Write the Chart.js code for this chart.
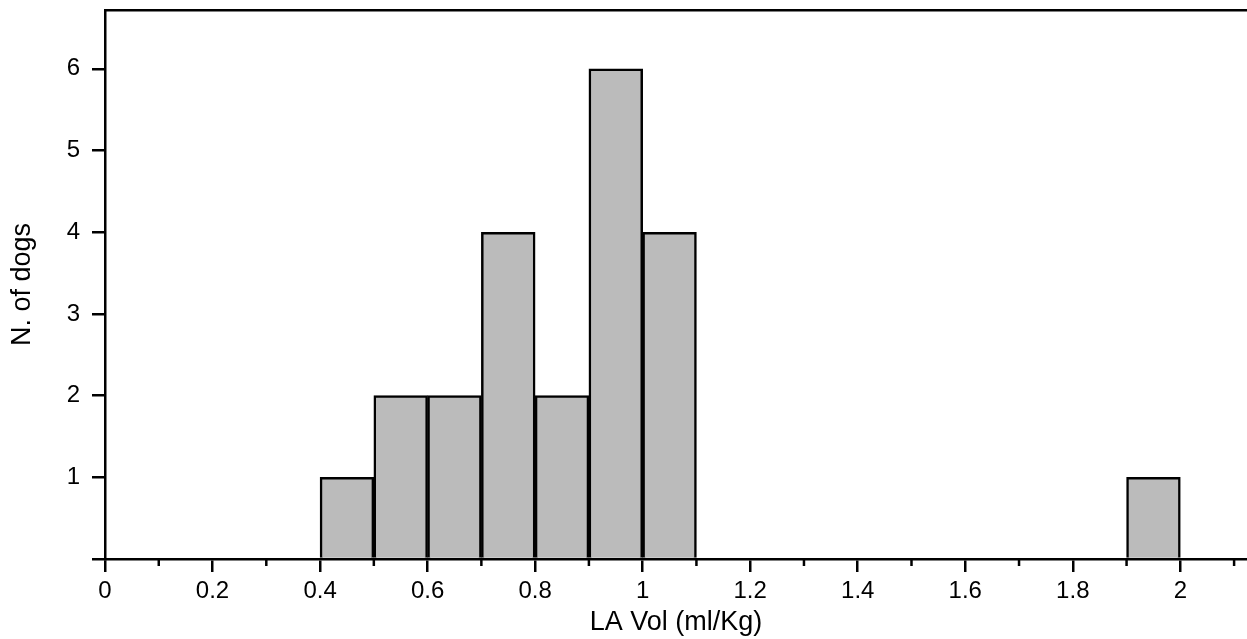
<!DOCTYPE html>
<html lang="en">
<head>
    <meta charset="UTF-8">
    <title>LA Vol histogram</title>
    <script src="https://cdn.jsdelivr.net/npm/chart.js"></script>
    <style>
        html, body { margin: 0; padding: 0; background: #fff; }
        #wrap { width: 1247px; height: 639px; position: relative; }
    </style>
</head>
<body>
<div id="wrap"><canvas id="histChart"></canvas></div>

<script>
    // Histogram bins (lower edge of each 0.1 ml/Kg bin) and counts
    const binStarts = [0.4, 0.5, 0.6, 0.7, 0.8, 0.9, 1.0, 1.9];
    const binWidth = 0.1;
    const dogCounts = [1, 2, 2, 4, 2, 6, 4, 1];

    // Axis ranges
    const xMin = 0, xMax = 2.124, xStep = 0.1;
    const yMin = 0, yMax = 6.72, yStep = 1;

    const xTitle = "LA Vol (ml/Kg)";
    const yTitle = "N. of dogs";

    const points = binStarts.map((b, i) => ({ x: b + binWidth / 2, y: dogCounts[i] }));

    const fontFamily = "'Liberation Sans', Arial, sans-serif";

    // odd tenths are minor ticks (no label, shorter mark)
    function isMinor(v) {
        return Math.round(v * 10) % 2 !== 0;
    }

    // draw the short minor tick marks on the x axis
    const minorTicks = {
        id: "minorTicks",
        afterDraw(chart) {
            const xs = chart.scales.x;
            const c = chart.ctx;
            c.save();
            c.strokeStyle = "#000";
            c.lineWidth = 2.5;
            xs.ticks.forEach(t => {
                if (!isMinor(t.value)) return;
                const px = xs.getPixelForValue(t.value);
                c.beginPath();
                c.moveTo(px, xs.top);
                c.lineTo(px, xs.top + 7);
                c.stroke();
            });
            c.restore();
        }
    };

    const ctx = document.getElementById("histChart").getContext("2d");
    new Chart(ctx, {
        type: "bar",
        data: {
            datasets: [{
                data: points,
                backgroundColor: "#bbbbbb",
                borderColor: "#000",
                borderWidth: 2.5,
                borderSkipped: "start",
                barPercentage: 1,
                categoryPercentage: 1
            }]
        },
        options: {
            responsive: true,
            maintainAspectRatio: false,
            animation: false,
            layout: { padding: 0 },
            plugins: {
                legend: { display: false },
                tooltip: { enabled: false }
            },
            scales: {
                x: {
                    type: "linear",
                    position: "bottom",
                    offset: false,
                    min: xMin,
                    max: xMax,
                    afterFit: s => { s.height = 80; s.paddingLeft = 0; s.paddingRight = 0; },
                    ticks: {
                        stepSize: xStep,
                        includeBounds: false,
                        autoSkip: false,
                        maxRotation: 0,
                        padding: 5,
                        color: "#000",
                        font: { family: fontFamily, size: 24 },
                        callback: v => isMinor(v) ? "" : String(Math.round(v * 10) / 10)
                    },
                    grid: {
                        offset: false,
                        drawOnChartArea: false,
                        drawTicks: true,
                        tickLength: 13,
                        lineWidth: 2.5,
                        tickColor: c => (c.tick && isMinor(c.tick.value)) ? "rgba(0,0,0,0)" : "#000"
                    },
                    border: { display: true, color: "#000", width: 2.5 },
                    title: {
                        display: true,
                        text: xTitle,
                        color: "#000",
                        font: { family: fontFamily, size: 27 },
                        padding: { top: 0, bottom: 0 }
                    }
                },
                xTop: {
                    type: "linear",
                    position: "top",
                    offset: false,
                    min: xMin,
                    max: xMax,
                    afterFit: s => { s.height = 10; s.paddingLeft = 0; s.paddingRight = 0; },
                    ticks: { display: false },
                    grid: { display: false },
                    border: { display: true, color: "#000", width: 2.5 }
                },
                y: {
                    min: yMin,
                    max: yMax,
                    afterFit: s => { s.width = 105; s.paddingTop = 0; s.paddingBottom = 0; },
                    ticks: {
                        stepSize: yStep,
                        includeBounds: false,
                        padding: 12,
                        color: "#000",
                        font: { family: fontFamily, size: 24 },
                        callback: v => v === 0 ? "" : String(v)
                    },
                    grid: {
                        drawOnChartArea: false,
                        drawTicks: true,
                        tickLength: 13,
                        lineWidth: 2.5,
                        color: "#000"
                    },
                    border: { display: true, color: "#000", width: 2.5 },
                    title: {
                        display: true,
                        text: yTitle,
                        color: "#000",
                        font: { family: fontFamily, size: 27 },
                        padding: { top: 6, bottom: 0 }
                    }
                }
            }
        },
        plugins: [minorTicks]
    });
</script>
</body>
</html>
